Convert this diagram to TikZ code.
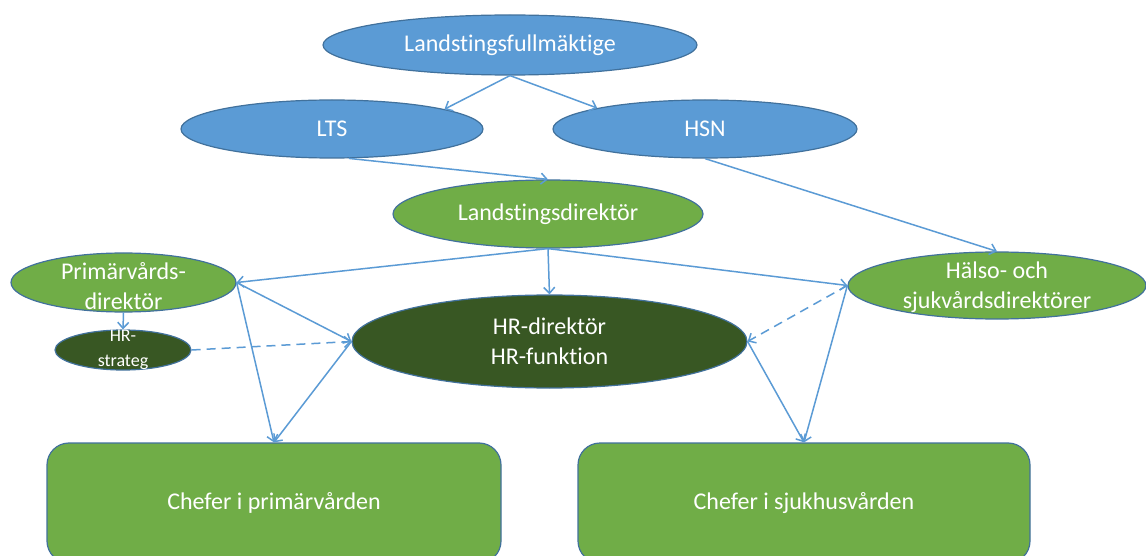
\documentclass[tikz,border=0pt]{standalone}
\usepackage{fontspec}
\setmainfont{Carlito}[Ligatures=NoCommon]
\usetikzlibrary{shapes.geometric,arrows.meta}
\definecolor{ablue}{HTML}{5B9BD5}
\definecolor{oblue}{HTML}{41719C}
\definecolor{agreen}{HTML}{70AD47}
\definecolor{dgreen}{HTML}{385723}
\tikzset{
  ell/.style={ellipse, draw=oblue, line width=1.2pt, inner sep=0pt},
  bell/.style={ell, fill=ablue},
  gell/.style={ell, fill=agreen},
  dell/.style={ell, fill=dgreen},
  txt/.style={text=white, align=center, inner sep=0pt, font=\fontsize{24}{30}\selectfont},
  stxt/.style={text=white, align=center, inner sep=0pt, font=\fontsize{18}{25}\selectfont},
  cbox/.style={rectangle, draw=oblue, line width=1.2pt, fill=agreen, rounded corners=22pt,
    minimum height=120pt, text=white, font=\fontsize{24}{30}\selectfont},
  arr/.style={draw=ablue, line width=1.5pt, -{Straight Barb[length=6pt,width=11pt]}},
  darr/.style={arr, dash pattern=on 9pt off 6pt},
}
\begin{document}
\begin{tikzpicture}[x=1pt,y=-1pt]
\path[use as bounding box] (0,0) rectangle (1146,556);
\clip (0,0) rectangle (1146,556);
\fill[white] (0,0) rectangle (1146,556);

\node[bell, minimum width=374pt, minimum height=60pt,
  label={[txt]center:Landstingsfullmäktige}] (lf) at (510,45) {};
\node[bell, minimum width=302pt, minimum height=58pt,
  label={[txt]center:LTS}] (lts) at (332,129) {};
\node[bell, minimum width=304pt, minimum height=58pt,
  label={[txt]center:HSN}] (hsn) at (705,129) {};
\node[gell, minimum width=310pt, minimum height=68pt,
  label={[txt]center:Landstingsdirektör}] (ld) at (548,214) {};
\node[gell, minimum width=225pt, minimum height=59pt,
  label={[txt,yshift=-3.5pt]center:{Primärvårds-\\direktör}}] (prim) at (123.5,282.5) {};
\node[dell, minimum width=136pt, minimum height=40pt,
  label={[stxt]center:{HR-\\strateg}}] (hrs) at (123,350) {};
\node[dell, minimum width=395pt, minimum height=93pt,
  label={[txt]center:{HR-direktör\\HR-funktion}}] (hr) at (549.5,341.5) {};
\node[gell, minimum width=298pt, minimum height=67pt,
  label={[txt,yshift=-1.5pt]center:{Hälso- och\\sjukvårdsdirektörer}}] (hals) at (997,285.5) {};
\node[cbox, minimum width=454pt] (box1) at (274,503) {Chefer i primärvården};
\node[cbox, minimum width=452pt] (box2) at (804,503) {Chefer i sjukhusvården};

\draw[arr] (lf.south) -- (lts.10);
\draw[arr] (lf.south) -- (hsn.169);
\draw[arr] (lts.-60) -- (ld.north);
\draw[arr] (hsn.south) -- (hals.north);
\draw[arr] (ld.south) -- (hr.north);
\draw[arr] (ld.south) -- (prim.east);
\draw[arr] (ld.south) -- (hals.west);
\draw[arr] (prim.south) -- (hrs.north);
\draw[arr] (prim.east) -- (hr.west);
\draw[arr] (prim.east) -- (box1.north);
\draw[arr] (hr.west) -- (box1.north);
\draw[darr] (hrs.east) -- (hr.west);
\draw[darr] (hals.west) -- (hr.east);
\draw[arr] (hals.west) -- (box2.north);
\draw[arr] (hr.east) -- (box2.north);
\end{tikzpicture}
\end{document}
